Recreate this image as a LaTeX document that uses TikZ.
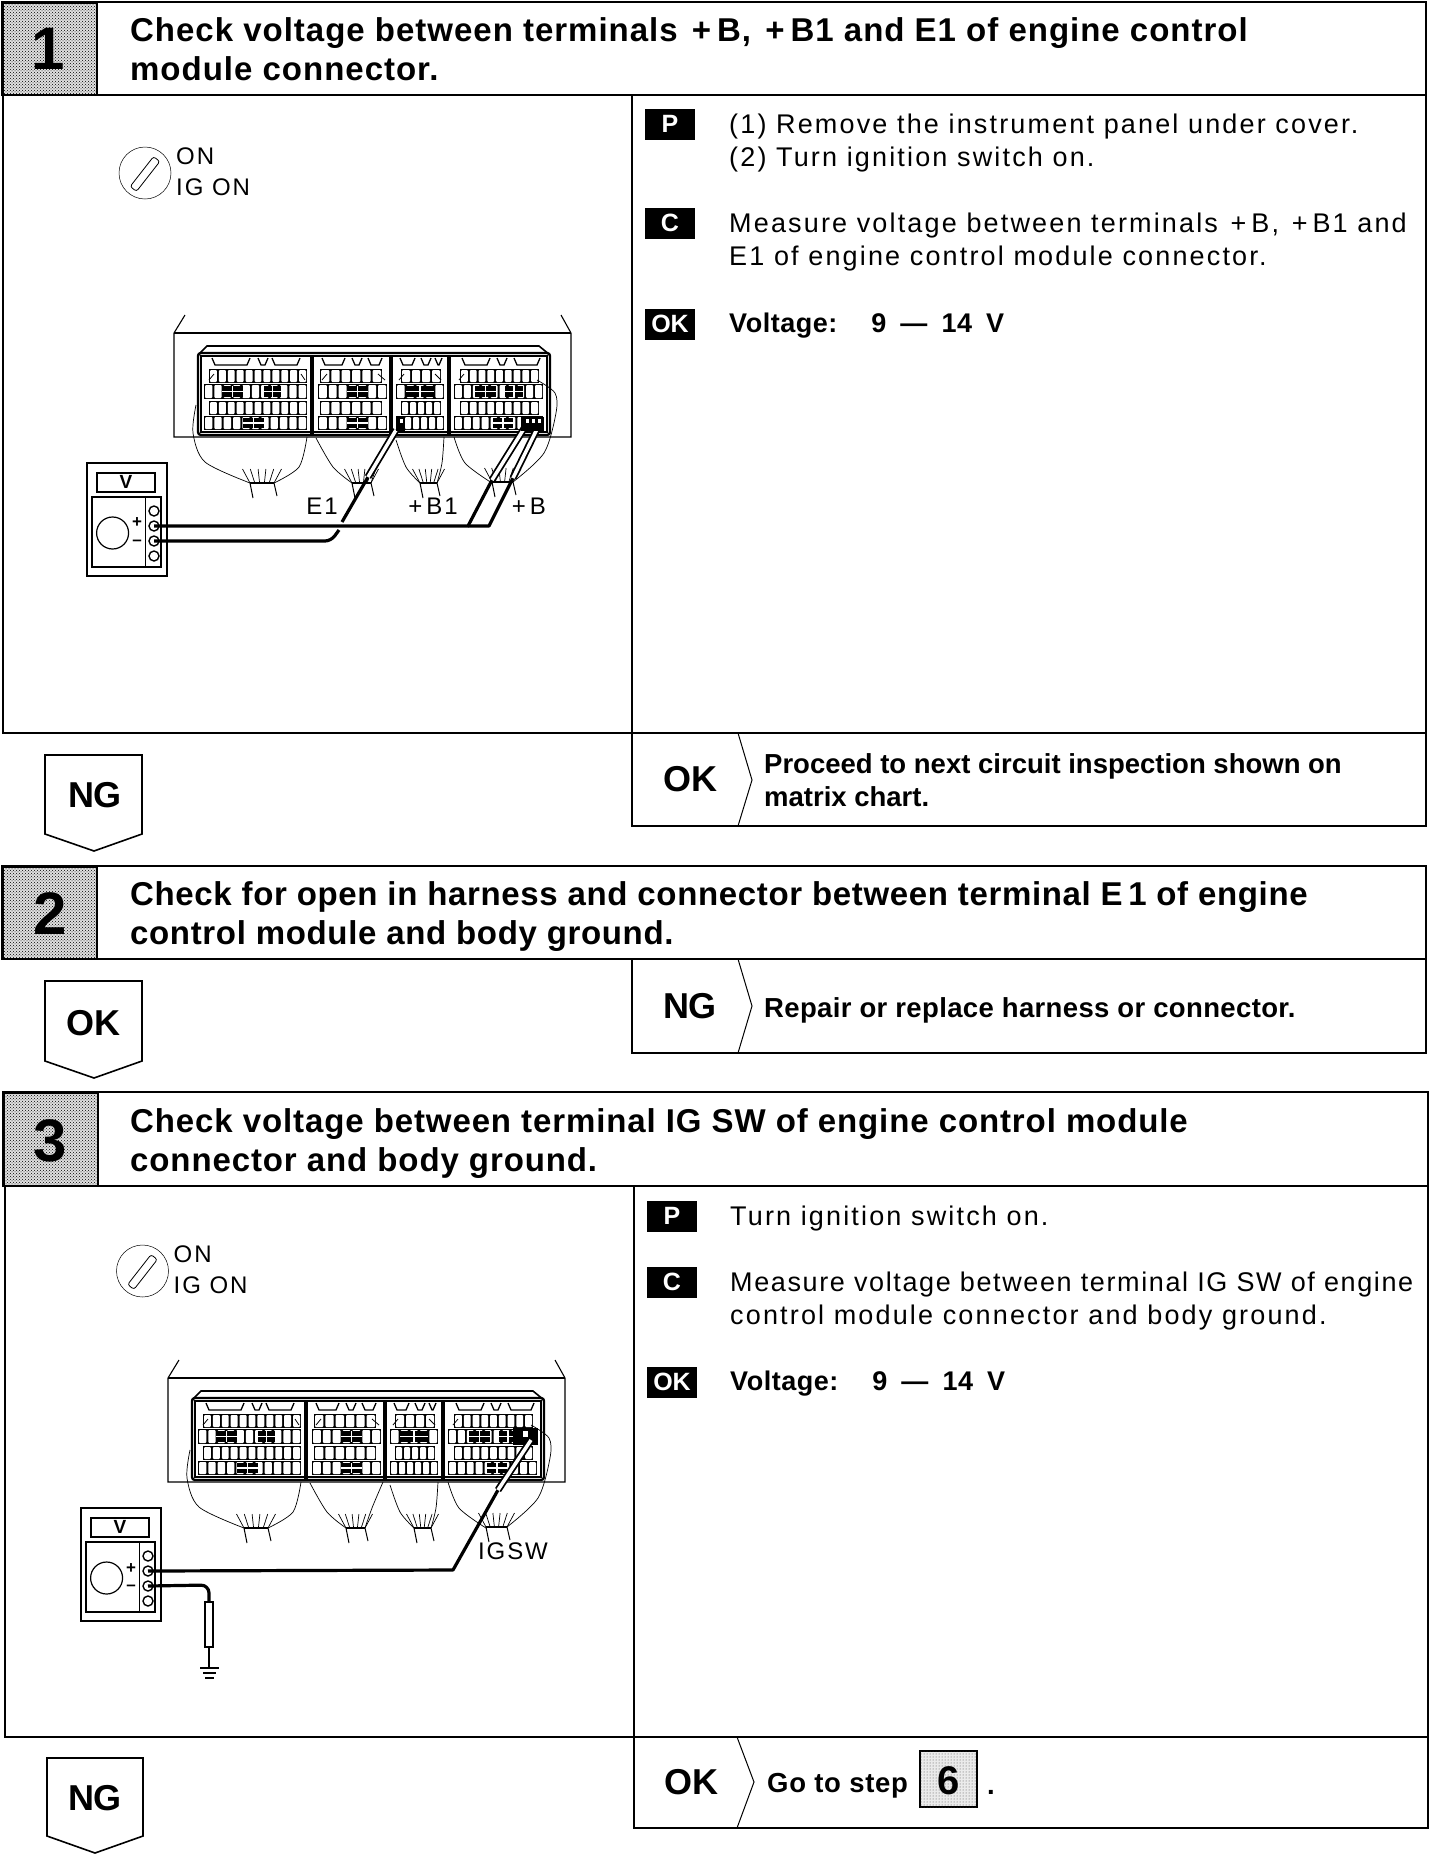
\documentclass[tikz,border=0pt]{standalone}
\usepackage{fontspec}
\setmainfont{Liberation Sans}
\newfontfamily\bodyfont[LetterSpace=8]{Liberation Sans}
\newfontfamily\labelfont[LetterSpace=8]{Liberation Sans}
\newfontfamily\headfont[LetterSpace=3]{Liberation Sans}
\usetikzlibrary{patterns}
\definecolor{stepgray}{gray}{0.88}

% one row of terminal cells
\newcommand{\ecurow}[5]{%
  \fill (#1,#3) rectangle (#2,#4);
  \foreach \i in {1,...,#5} {
    \pgfmathsetmacro{\xa}{#1+(#2-#1)*(\i-1)/#5+1}
    \pgfmathsetmacro{\xb}{#1+(#2-#1)*\i/#5-1}
    \fill[white,rounded corners=1pt] (\xa,#3+1) rectangle (\xb,#4-1);
  }
}
% block of plus marks in a row
\newcommand{\ecucross}[4]{%
  \fill (#1,#3) rectangle (#2,#4);
  \draw[white,line width=1.1pt] (#1,{(#3+#4)/2}) -- (#2,{(#3+#4)/2});
  \draw[white,line width=1.1pt] ({(#1+#2)/2},#3) -- ({(#1+#2)/2},#4);
}
% wire bundle below a section
\newcommand{\ecufan}[3]{%
  \draw[line width=1.4pt] (#1,#3) -- (#2,#3);
  \draw[line width=1pt] (#1,#3) -- (#1+3,#3+15);
  \draw[line width=1pt] (#2,#3) -- (#2+3,#3+13);
  \foreach \i in {0,...,5} {
    \draw[line width=0.7pt] ({#1+(#2-#1)*\i/5},#3) -- ({#1+(#2-#1)*\i/5+(\i-2.5)*3},#3-14);
  }
}
% engine control module panel
\newcommand{\ecupanel}{%
  \draw[line width=1.1pt] (185,315) -- (174,333) -- (174,437) -- (571,437) -- (571,333) -- (561,315);
  \draw[line width=1.1pt] (174,333) -- (571,333);
  \fill[white] (198,353) rectangle (550,435);
  \draw[line width=1.6pt] (198,355) -- (207,346) -- (539,346) -- (550,355);
  \draw[line width=2.4pt,rounded corners=3pt] (198,353) rectangle (550,435);
  \draw[line width=1.1pt] (201,356) rectangle (547,432);
  \foreach \x in {312,391,449} {
    \draw[line width=3.4pt] (\x,355) -- (\x,434);
  }
  \ecurow{209}{307}{369}{383}{11}
  \ecurow{204}{307}{384}{399}{11}
  \ecurow{209}{307}{401}{415}{11}
  \ecurow{204}{307}{416}{430}{11}
  \ecucross{222}{243}{386}{397}
  \ecucross{264}{281}{386}{397}
  \ecucross{243}{264}{418}{428}
  \ecurow{320}{382}{369}{383}{6}
  \ecurow{318}{387}{384}{399}{7}
  \ecurow{320}{382}{401}{415}{6}
  \ecurow{318}{387}{416}{430}{7}
  \ecucross{347}{368}{386}{397}
  \ecucross{347}{368}{418}{428}
  \ecurow{401}{441}{369}{383}{4}
  \ecurow{396}{444}{384}{399}{5}
  \ecurow{401}{441}{401}{415}{5}
  \ecurow{396}{444}{416}{430}{6}
  \ecucross{406}{434}{386}{397}
  \ecurow{460}{539}{369}{383}{9}
  \ecurow{454}{543}{384}{399}{10}
  \ecurow{460}{539}{401}{415}{9}
  \ecurow{454}{543}{416}{430}{10}
  \ecucross{475}{496}{386}{397}
  \ecucross{505}{523}{386}{397}
  \ecucross{493}{513}{418}{428}
  % latches along the top
  \foreach \xa/\xb in {212/250,258/268,272/300,322/345,352/362,368/382,400/415,421/431,435/442,462/490,497/507,514/540} {
    \draw[line width=1.3pt] (\xa,358) -- (\xa+3,365) -- (\xb-3,365) -- (\xb,358);
  }
  \foreach \xa/\ya/\xb/\yb in {209/380/214/374,305/380/301/374,322/380/327/374,385/380/378/374,399/380/404/374,441/380/435/374,459/380/464/374} {
    \draw[line width=0.8pt] (\xa,\ya) -- (\xb,\yb);
  }
  % wires
  \draw[line width=0.7pt] plot[smooth] coordinates {(196,405) (193,433) (205,462) (250,483)};
  \draw[line width=0.7pt] plot[smooth] coordinates {(307,437) (299,467) (274,483)};
  \draw[line width=0.7pt] plot[smooth] coordinates {(316,438) (333,467) (352,483)};
  \draw[line width=0.7pt] plot[smooth] coordinates {(389,437) (378,463) (371,483)};
  \draw[line width=0.7pt] plot[smooth] coordinates {(396,440) (406,467) (420,483)};
  \draw[line width=0.7pt] plot[smooth] coordinates {(444,437) (442,463) (437,483)};
  \draw[line width=0.7pt] plot[smooth] coordinates {(454,437) (465,463) (492,483)};
  \draw[line width=0.7pt] plot[smooth] coordinates {(537,380) (555,393) (556,413) (544,453) (513,482)};
  \ecufan{250}{274}{483}
  \ecufan{352}{371}{483}
  \ecufan{420}{437}{483}
  \ecufan{492}{513}{482}
}
% tester, with the plus and minus sockets named
\newcommand{\ecumeter}[1]{%
  \draw[line width=2pt] (87,463) rectangle (167,576);
  \draw[line width=1.6pt] (97,473) rectangle (155,492);
  \draw[line width=1.2pt] (92,497) rectangle (161,567);
  \draw[line width=1.2pt] (145.5,497) -- (145.5,567);
  \draw[line width=1.2pt] (112.6,533) circle (16);
  \foreach \y in {511,526,541,556} {
    \draw[line width=1.4pt] (154,\y) circle (5);
  }
  \node[inner sep=0pt,font=\fontsize{19}{19}\selectfont\bfseries] (#1v) at (126,482) {V};
  \node[inner sep=0pt,font=\fontsize{17}{17}\selectfont\bfseries] (#1plus) at (137,523) {+};
  \node[inner sep=0pt,font=\fontsize{17}{17}\selectfont\bfseries] (#1minus) at (137,543) {–};
  \coordinate (#1p) at (154,526);
  \coordinate (#1n) at (154,541);
}
% ignition key mark
\newcommand{\ecukey}[1]{%
  \draw[line width=0.5pt] (145,173) circle (26);
  \draw[line width=0.8pt,rotate around={52:(145,174)},rounded corners=2.5pt] (126,170) rectangle (164,178);
  \node[keytext] (#1on) at (176,156) {ON};
  \node[keytext] (#1ig) at (176,187) {IG ON};
}

\begin{document}
\begin{tikzpicture}[x=1pt,y=-1pt,
    frameline/.style={line width=1.6pt},
    stepsquare/.style={draw,line width=2pt,fill=stepgray,postaction={pattern=crosshatch dots,pattern color=black}},
    stepnum/.style={font=\fontsize{60}{60}\selectfont\bfseries,inner sep=0pt},
    headtext/.style={anchor=north west,inner sep=0pt,align=left,font=\fontsize{33}{39.5}\headfont\bfseries},
    bodytext/.style={anchor=north west,inner sep=0pt,align=left,font=\fontsize{27}{33}\bodyfont},
    boldtext/.style={anchor=north west,inner sep=0pt,align=left,font=\fontsize{27.5}{33}\selectfont\bfseries},
    badge/.style={fill=black,text=white,inner sep=0pt,minimum width=50pt,minimum height=31pt,font=\fontsize{25}{25}\selectfont\bfseries},
    verdict/.style={inner sep=0pt,font=\fontsize{36}{36}\selectfont\bfseries},
    keytext/.style={anchor=west,inner sep=0pt,font=\fontsize{24}{24}\labelfont},
    termtext/.style={inner sep=0pt,font=\fontsize{24}{24}\labelfont},
    wire/.style={line width=3.2pt,line join=round},
    probe/.style={double=white,double distance=3.5pt,line width=1.8pt}]
  \useasboundingbox (0,0) rectangle (1440,1856);

  % step 1
  \draw[frameline] (2,2) rectangle (1426,95);
  \path[stepsquare] (3,3) rectangle (97,95);
  \node[stepnum] (num1) at (48,49) {1};
  \node[headtext] (head1) at (130,17) {Check voltage between terminals \kern4pt+\kern6pt B, \kern4pt+\kern6pt B1 and E1 of engine control\\module connector.};
  \draw[frameline] (3,95) -- (3,733) -- (1426,733) -- (1426,95);
  \draw[frameline] (632,95) -- (632,826) -- (1426,826) -- (1426,733);
  \draw[line width=1pt] (738,733) -- (752,780) -- (738,826);
  \node[badge] (p1) at (670,124) {P};
  \node[bodytext] (ptext1) at (729,114) {(1) Remove the instrument panel under cover.\\(2) Turn ignition switch on.};
  \node[badge] (c1) at (670,223) {C};
  \node[bodytext] (ctext1) at (729,213) {Measure voltage between terminals \kern3pt+\kern5pt B, \kern3pt+\kern5pt B1 and\\E1 of engine control module connector.};
  \node[badge] (ok1) at (670,324) {OK};
  \node[boldtext,font=\fontsize{27}{33}\bodyfont\bfseries\addfontfeature{LetterSpace=2}] (volt1) at (729,313) {Voltage:\hspace{34pt}9\hspace{14pt}—\hspace{14pt}14\hspace{14pt}V};
  \ecukey{a}
  \ecupanel
  \ecumeter{a}
  \node[termtext] (e1) at (322,506) {E1};
  \node[termtext] (b1) at (433,506) {+\,B1};
  \node[termtext] (b) at (529,506) {+\,B};
  \coordinate (e1tip) at (396,430);
  \coordinate (e1a) at (368,477);
  \coordinate (e1b) at (342,522);
  \coordinate (e1c) at (339,530);
  \coordinate (btip1) at (525,427);
  \coordinate (btip2) at (538,427);
  \coordinate (ba) at (492,480);
  \coordinate (bb) at (513,478);
  \coordinate (bc) at (468,526);
  \coordinate (bd) at (489,526);
  \draw[wire,rounded corners=6pt] (an) -- (331,541) -- (e1c);
  \draw[wire] (e1b) -- (e1a);
  \draw[probe] (e1a) -- (e1tip);
  \draw[wire] (ap) -- (bc) -- (ba);
  \draw[wire] (bc) -- (bd) -- (bb);
  \draw[probe] (ba) -- (btip1);
  \draw[probe] (bb) -- (btip2);
  \fill (396,417) rectangle (405,431);
  \fill (521,417) rectangle (544,431);
  \foreach \x in {400,526,532,538} {
    \fill[white] (\x,419) rectangle +(3,4);
  }
  \node[verdict] (ng1) at (95,795) {NG};
  \draw[frameline] (45,755) -- (142,755) -- (142,834) -- (94,851) -- (45,834) -- cycle;
  \node[verdict] (ok1b) at (690,779) {OK};
  \node[boldtext] (next1) at (764,753) {Proceed to next circuit inspection shown on\\matrix chart.};

  % step 2
  \draw[frameline] (2,866) rectangle (1426,959);
  \path[stepsquare] (3,867) rectangle (97,959);
  \node[stepnum] (num2) at (50,914) {2};
  \node[headtext,font=\fontsize{33}{39.5}\headfont\bfseries\addfontfeature{LetterSpace=2}] (head2) at (130,881) {Check for open in harness and connector between terminal E\,1 of engine\\control module and body ground.};
  \draw[frameline] (632,959) -- (632,1053) -- (1426,1053) -- (1426,959);
  \draw[line width=1pt] (738,959) -- (752,1006) -- (738,1053);
  \node[verdict] (ng2) at (690,1006) {NG};
  \node[boldtext,font=\fontsize{27.5}{33}\selectfont\bfseries\addfontfeature{LetterSpace=1.3}] (repair2) at (764,997) {Repair or replace harness or connector.};
  \node[verdict] (ok2) at (93,1023) {OK};
  \draw[frameline] (45,981) -- (142,981) -- (142,1061) -- (94,1078) -- (45,1061) -- cycle;

  % step 3
  \draw[frameline] (3,1092) rectangle (1428,1186);
  \path[stepsquare] (4,1093) rectangle (98,1186);
  \node[stepnum] (num3) at (50,1141) {3};
  \node[headtext,font=\fontsize{33}{39.5}\headfont\bfseries\addfontfeature{LetterSpace=2.7}] (head3) at (130,1108) {Check voltage between terminal IG SW of engine control module\\connector and body ground.};
  \draw[frameline] (5,1186) -- (5,1737) -- (1428,1737) -- (1428,1186);
  \draw[frameline] (634,1186) -- (634,1828) -- (1428,1828) -- (1428,1737);
  \draw[line width=1pt] (737,1737) -- (754,1782) -- (737,1828);
  \node[badge] (p3) at (672,1216) {P};
  \node[bodytext] (ptext3) at (730,1206) {Turn ignition switch on.};
  \node[badge] (c3) at (672,1282) {C};
  \node[bodytext] (ctext3) at (730,1272) {{\addfontfeature{LetterSpace=6}Measure voltage between terminal IG SW of engine}\\control module connector and body ground.};
  \node[badge] (ok3) at (672,1382) {OK};
  \node[boldtext,font=\fontsize{27}{33}\bodyfont\bfseries\addfontfeature{LetterSpace=2}] (volt3) at (730,1371) {Voltage:\hspace{34pt}9\hspace{14pt}—\hspace{14pt}14\hspace{14pt}V};
  \begin{scope}[shift={(-2.5,1098)}]
    \ecukey{b}
  \end{scope}
  \begin{scope}[shift={(-6,1045)}]
    \ecupanel
    \ecumeter{b}
    \fill (519,1428-1045) rectangle (544,1445-1045);
    \fill[white] (529,1431-1045) rectangle +(5,6);
  \end{scope}
  \node[termtext] (igsw) at (513,1551) {IGSW};
  \coordinate (igtip) at (531,1440);
  \coordinate (iga) at (498,1490);
  \coordinate (igb) at (453,1570);
  \coordinate (gnda) at (209,1602);
  \coordinate (gndb) at (209,1647);
  \coordinate (gndc) at (209,1668);
  \draw[wire] (bp) -- (igb) -- (iga);
  \draw[probe] (iga) -- (igtip);
  \draw[wire,rounded corners=8pt] (bn) -- (209,1585) -- (gnda);
  \draw[line width=2pt] (205,1602) rectangle (213,1647);
  \draw[line width=2.4pt] (gndb) -- (gndc);
  \draw[line width=1.6pt] (200,1668) -- (219,1668);
  \draw[line width=1.6pt] (203,1673) -- (216,1673);
  \draw[line width=1.6pt] (205,1678) -- (214,1678);
  \node[verdict] (ng3) at (95,1798) {NG};
  \draw[frameline] (47,1758) -- (143,1758) -- (143,1836) -- (95,1853) -- (47,1836) -- cycle;
  \node[verdict] (ok3b) at (691,1782) {OK};
  \node[boldtext,font=\fontsize{27.5}{33}\selectfont\bfseries\addfontfeature{LetterSpace=2.5}] (goto3) at (767,1773) {Go to step};
  \draw[line width=1.6pt,fill=black!8,postaction={pattern=dots,pattern color=black!70}] (920,1751) rectangle (977,1807);
  \node[inner sep=0pt,font=\fontsize{40}{40}\selectfont\bfseries] (num6) at (949,1781) {6};
  \node[anchor=base west,inner sep=0pt,font=\fontsize{27.5}{33}\selectfont\bfseries] (dot3) at (987,1794) {.};
\end{tikzpicture}
\end{document}
